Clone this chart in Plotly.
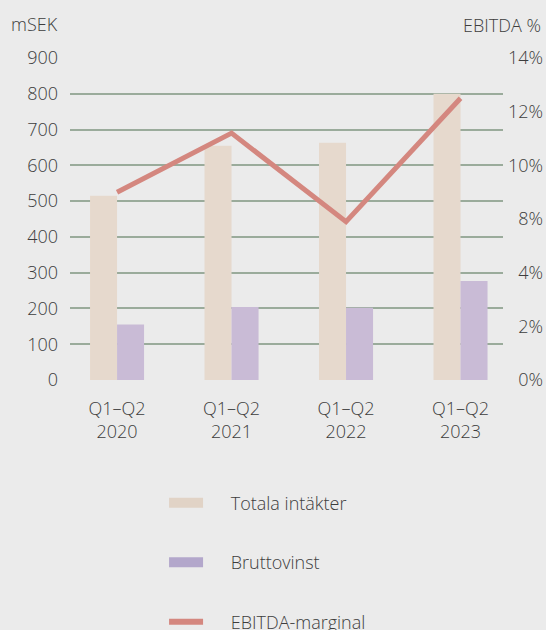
import plotly.graph_objects as go

categories = ["Q1–Q2<br>2020", "Q1–Q2<br>2021", "Q1–Q2<br>2022", "Q1–Q2<br>2023"]
totala_intakter = [515, 655, 663, 800]
bruttovinst = [155, 204, 202, 277]
ebitda_marginal = [9.0, 11.2, 7.9, 12.5]

left_ticks = [0, 100, 200, 300, 400, 500, 600, 700, 800, 900]
right_tickvals = [2, 4, 6, 8, 10, 12, 14]
right_ticktext = ["\u20070%", "\u20072%", "\u20074%", "\u20078%", "10%", "12%", "14%"]

TAN = "#e6d9cd"
PURPLE = "#c9bbd6"
RED = "#d4877f"
GRID = "#9aab9b"
TEXT = "#3d3d3d"
BG = "#ebebeb"
FONT = "Open Sans"
PAD = "\u2002\u2002 "

fig = go.Figure()
fig.add_trace(go.Bar(x=categories, y=totala_intakter, name="Totala intäkter",
                     marker=dict(color=TAN, line=dict(width=0)), showlegend=False))
fig.add_trace(go.Bar(x=categories, y=bruttovinst, name="Bruttovinst",
                     marker=dict(color=PURPLE, line=dict(width=0)), showlegend=False))
fig.add_trace(go.Scatter(x=categories, y=ebitda_marginal, name="EBITDA-marginal",
                         yaxis="y2", mode="lines", line=dict(color=RED, width=5),
                         showlegend=False))

# legend entries
for nm, col, w in [("Totala intäkter", "#e1d3c6", 14), ("Bruttovinst", "#b3a7cb", 14),
                   ("EBITDA-marginal", RED, 6)]:
    fig.add_trace(go.Scatter(x=[None], y=[None], name=PAD + nm, mode="lines",
                             line=dict(color=col, width=w), legendgroup=nm,
                             showlegend=True, hoverinfo="skip"))

fig.update_layout(
    width=546, height=630,
    margin=dict(l=70, r=43.3, t=58.3, b=249.7, autoexpand=False),
    paper_bgcolor=BG, plot_bgcolor=BG,
    font=dict(family=FONT, size=18, color=TEXT, weight=300),
    barmode="group", bargap=0.528, bargroupgap=0,
    showlegend=True,
    legend=dict(x=(164 - 70) / 432.7, xanchor="left", y=-0.325, yanchor="top",
                orientation="v", tracegroupgap=33, itemwidth=34,
                font=dict(size=18, color=TEXT, family=FONT, weight=300),
                bgcolor="rgba(0,0,0,0)"),
    xaxis=dict(type="category", range=[-0.411, 3.371], showgrid=False,
               showline=False, zeroline=False, ticks="", ticklabelstandoff=16,
               tickfont=dict(size=18, color=TEXT)),
    yaxis=dict(range=[0, 900], tickvals=left_ticks, showgrid=True,
               gridcolor=GRID, gridwidth=2, zeroline=False, showline=False,
               ticks="", ticklabelstandoff=11, tickfont=dict(size=18, color=TEXT)),
    yaxis2=dict(range=[2, 14], overlaying="y", side="right",
                tickvals=right_tickvals, ticktext=right_ticktext,
                showgrid=False, zeroline=False, showline=False, ticks="",
                ticklabelstandoff=4, tickfont=dict(size=18, color=TEXT)),
    annotations=[
        dict(text="mSEK", xref="paper", yref="paper", x=(9 - 70) / 432.7,
             y=(380.3 - 24) / 322, xanchor="left", yanchor="middle",
             showarrow=False, font=dict(size=18, color=TEXT)),
        dict(text="EBITDA %", xref="paper", yref="paper", x=(543 - 70) / 432.7,
             y=(380.3 - 25) / 322, xanchor="right", yanchor="middle",
             showarrow=False, font=dict(size=18, color=TEXT)),
    ],
)

fig.write_html("out.html", config={"displayModeBar": False},
               post_script="document.body.style.margin='0';document.body.style.overflow='hidden';")
